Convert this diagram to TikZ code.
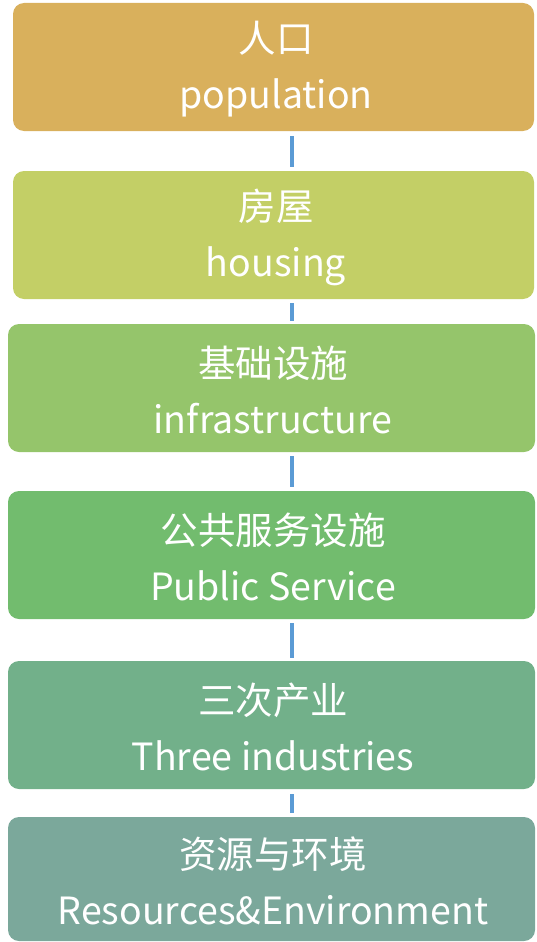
\documentclass[tikz,border=0pt]{standalone}
\usepackage{fontspec}
\setmainfont{Noto Sans CJK SC}
\definecolor{c1}{HTML}{D9B05C}
\definecolor{c2}{HTML}{C3CF66}
\definecolor{c3}{HTML}{95C56B}
\definecolor{c4}{HTML}{72BC6E}
\definecolor{c5}{HTML}{72B08A}
\definecolor{c6}{HTML}{7BA89B}
\definecolor{conn}{HTML}{5B9BD5}
\begin{document}
\begin{tikzpicture}[x=1pt,y=-1pt,
  box/.style={rounded corners=11pt, inner sep=0pt},
  lbl/.style={text=white, align=center, font=\fontsize{37.5}{56}\selectfont, inner sep=0pt},
  link/.style={draw=conn, line width=4pt}]
\useasboundingbox (0,0) rectangle (536,942);
\fill[c1,box] (13,3) rectangle (534,131);
\fill[c2,box] (13,171) rectangle (534,299);
\fill[c3,box] (8,324) rectangle (535,452);
\fill[c4,box] (8,491) rectangle (535,619);
\fill[c5,box] (8,661) rectangle (535,789);
\fill[c6,box] (8,817) rectangle (535,941);
\node[lbl] (n1) at (276,69) {人口\\population};
\node[lbl] (n2) at (276,237) {房屋\\housing};
\node[lbl] (n3) at (273,390) {基础设施\\infrastructure};
\node[lbl] (n4) at (273,557) {公共服务设施\\Public Service};
\node[lbl] (n5) at (273,727) {三次产业\\Three industries};
\node[lbl] (n6) at (273,881) {资源与环境\\Resources\&Environment};
\coordinate (a1) at (292,136); \coordinate (b1) at (292,167);
\coordinate (a2) at (292,303); \coordinate (b2) at (292,321);
\coordinate (a3) at (292,456); \coordinate (b3) at (292,487);
\coordinate (a4) at (292,623); \coordinate (b4) at (292,658);
\coordinate (a5) at (292,794); \coordinate (b5) at (292,813);
\draw[link] (a1) -- (b1);
\draw[link] (a2) -- (b2);
\draw[link] (a3) -- (b3);
\draw[link] (a4) -- (b4);
\draw[link] (a5) -- (b5);
\end{tikzpicture}
\end{document}
